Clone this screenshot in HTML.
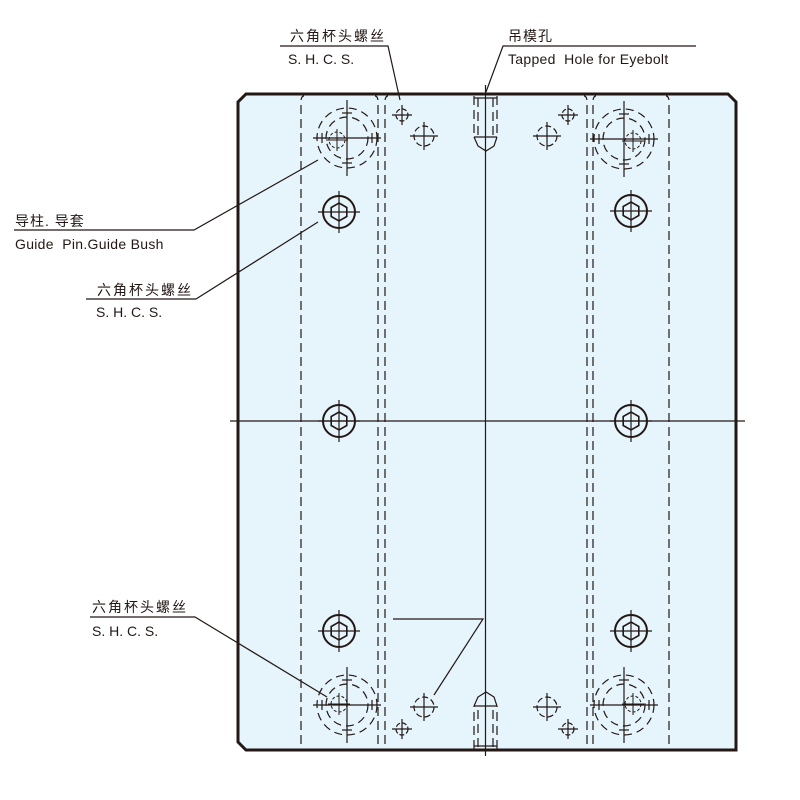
<!DOCTYPE html>
<html><head><meta charset="utf-8"><style>
html,body{margin:0;padding:0;background:#fff;width:800px;height:800px;overflow:hidden}
text{font-family:"Liberation Sans","Noto Sans CJK SC",sans-serif;fill:#231815;font-size:14px}
</style></head><body>
<svg width="800" height="800" viewBox="0 0 800 800" xmlns="http://www.w3.org/2000/svg">
<defs>
<g id="hex" stroke="#231815" fill="none">
  <circle r="16" stroke-width="2"/>
  <polygon points="0,-9 7.8,-4.5 7.8,4.5 0,9 -7.8,4.5 -7.8,-4.5" stroke-width="1.6"/>
  <line x1="-21" y1="0" x2="21" y2="0" stroke-width="1.2"/>
  <line x1="0" y1="-21" x2="0" y2="21" stroke-width="1.2"/>
</g>
<g id="pin" stroke="#231815" fill="none" stroke-width="1.2">
  <circle r="30" stroke-dasharray="8,5"/>
  <circle r="21" stroke-dasharray="8,5"/>
  <line x1="-34" y1="0" x2="34" y2="0"/>
  <line x1="0" y1="-38" x2="0" y2="38"/>
  <line x1="-25" y1="-5" x2="-25" y2="5"/><line x1="25" y1="-5" x2="25" y2="5"/>
  <line x1="-5" y1="-25" x2="5" y2="-25"/><line x1="-5" y1="25" x2="5" y2="25"/>
</g>
<g id="small" stroke="#231815" fill="none" stroke-width="1.2">
  <circle r="10" stroke-dasharray="6,3"/>
  <line x1="-14" y1="0" x2="14" y2="0"/><line x1="0" y1="-14" x2="0" y2="14"/>
</g>
<g id="tiny" stroke="#231815" fill="none" stroke-width="1.2">
  <circle r="6" stroke-dasharray="5,2"/>
  <line x1="-10" y1="0" x2="10" y2="0"/><line x1="0" y1="-10" x2="0" y2="10"/>
</g>
<g id="inner" stroke="#231815" fill="none" stroke-width="1">
  <circle r="8" stroke-dasharray="3,2"/>
  <line x1="0" y1="-11" x2="0" y2="11"/><line x1="-11" y1="0" x2="11" y2="0"/>
</g>
</defs>
<path d="M246,94 L728,94 L736,102 L736,750 L728,750 L246,750 L238,742 L238,102 Z" fill="#e6f4fc" stroke="#231815" stroke-width="3"/>
<g stroke="#231815" stroke-width="1.2" fill="none" stroke-dasharray="9,5">
  <path d="M301,744 L301,102 Q301,96 304,96"/>
  <path d="M378,744 L378,102 Q378,96 375,96"/>
  <path d="M385,744 L385,102 Q385,96 388,96"/>
  <path d="M587,744 L587,102 Q587,96 584,96"/>
  <path d="M593,744 L593,102 Q593,96 596,96"/>
  <path d="M669,744 L669,102 Q669,96 666,96"/>
  <path d="M474,96 L474,137 M497,96 L497,137 M478,98 L478,137 M493,98 L493,137"/>
  <path d="M474,749 L474,706 M497,749 L497,706 M478,747 L478,706 M493,747 L493,706"/>
</g>
<g stroke="#231815" stroke-width="1.2" fill="none">
  <line x1="485.5" y1="85" x2="485.5" y2="756"/>
  <line x1="230" y1="421" x2="745" y2="421"/>
  <path d="M474,98 L497,98 M474,137 L497,137 M474,137 L478,146 L486,151 L494,146 L497,137"/>
  <path d="M474,746 L497,746 M474,706 L497,706 M474,706 L478,697 L486,692 L494,697 L497,706"/>
  <polyline points="14,230 194,230 318,160"/>
  <polyline points="86,299 196,299 318,222"/>
  <polyline points="90,617 195,617 327,697"/>
  <polyline points="393,619 483,619 434,695"/>
  <polyline points="280,46 388,46 400,100"/>
  <polyline points="696,46 503,46 486,92"/>
</g>
<use href="#pin" x="347" y="138"/><use href="#inner" x="337" y="140"/>
<use href="#pin" x="624" y="139"/><use href="#inner" x="633" y="141"/>
<use href="#pin" x="347" y="705"/><use href="#inner" x="339" y="704"/>
<use href="#pin" x="624" y="705"/><use href="#inner" x="633" y="704"/>
<use href="#hex" x="339" y="212"/><use href="#hex" x="631" y="211"/>
<use href="#hex" x="339" y="421"/><use href="#hex" x="631" y="421"/>
<use href="#hex" x="339" y="631"/><use href="#hex" x="631" y="631"/>
<use href="#tiny" x="402" y="115"/><use href="#small" x="424" y="136"/>
<use href="#tiny" x="568" y="115"/><use href="#small" x="547" y="136"/>
<use href="#tiny" x="402" y="729"/><use href="#small" x="424" y="707"/>
<use href="#tiny" x="568" y="729"/><use href="#small" x="547" y="707"/>
<text x="290" y="41" font-size="15" letter-spacing="2">六角杯头螺丝</text>
<text x="288" y="64" font-size="13">S. H. C. S.</text>
<text x="508" y="41" font-size="15" letter-spacing="1">吊模孔</text>
<text x="508" y="64" font-size="15.5" letter-spacing="0.3">Tapped&#160; Hole for Eyebolt</text>
<text x="15" y="226" font-size="15" letter-spacing="1">导柱. 导套</text>
<text x="15" y="249" font-size="15.5" letter-spacing="0.3">Guide&#160; Pin.Guide Bush</text>
<text x="97" y="295" font-size="15" letter-spacing="2">六角杯头螺丝</text>
<text x="96" y="317" font-size="13">S. H. C. S.</text>
<text x="92" y="612" font-size="15" letter-spacing="2">六角杯头螺丝</text>
<text x="92" y="636" font-size="13">S. H. C. S.</text>
</svg>
</body></html>
